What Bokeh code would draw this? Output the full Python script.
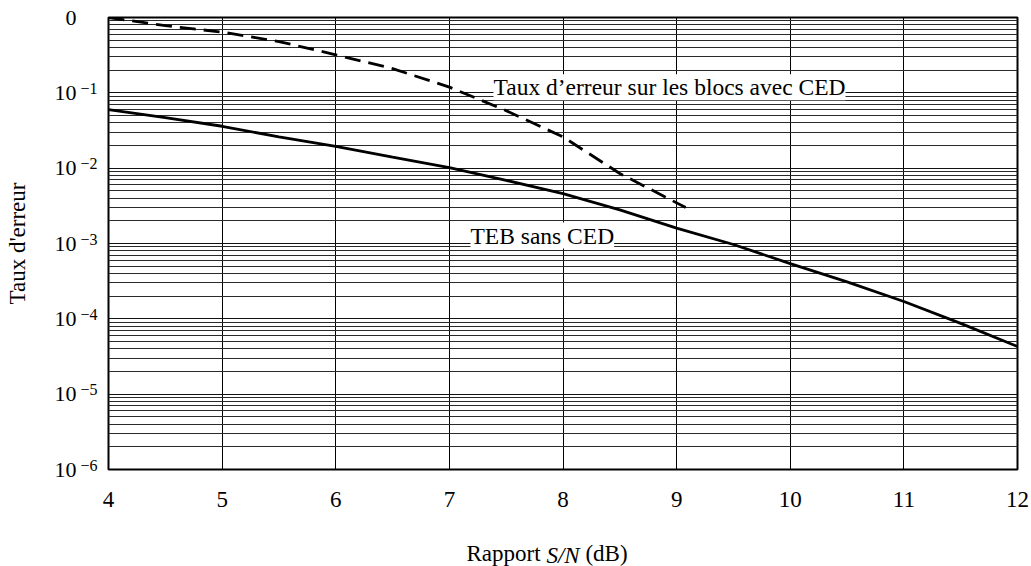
from bokeh.plotting import figure
from bokeh.models import FixedTicker, Label, Range1d, LogAxis, LinearAxis, LogScale
from bokeh.embed import file_html
from bokeh.resources import INLINE

# ---- data ----
snr_teb = [4, 4.5, 5, 5.5, 6, 6.5, 7, 7.5, 8, 8.5, 9, 9.5, 10, 10.5, 11, 11.5, 12]
teb_sans_ced = [0.060, 0.047, 0.036, 0.026, 0.0194, 0.014, 0.0102, 0.0069, 0.0046, 0.0028,
                0.0016, 9.7e-4, 5.4e-4, 3.1e-4, 1.7e-4, 8.7e-5, 4.3e-5]

snr_bloc = [4.0, 4.5, 5.0, 5.5, 6.0, 6.5, 7.0, 7.5, 8.0, 8.5, 9.08]
bloc_avec_ced = [1.0, 0.78, 0.64, 0.48, 0.32, 0.21, 0.119, 0.058, 0.026, 0.0085, 0.003]

x_ticks = [4, 5, 6, 7, 8, 9, 10, 11, 12]
y_ticks = [1e-6, 1e-5, 1e-4, 1e-3, 1e-2, 1e-1, 1.0]
y_tick_base = ["10", "10", "10", "10", "10", "10", "0"]
y_tick_exps = ["−6", "−5", "−4", "−3", "−2", "−1", ""]

x_title_parts = ["Rapport", "S/N", "(dB)"]
y_title = "Taux d'erreur"
label_bloc = "Taux d’erreur sur les blocs avec CED"
label_teb = "TEB sans CED"

FONT = "Liberation Serif"

# ---- layout constants (pixels) ----
FL, FW, FT, FH = 108, 909, 17, 452
PX_PER_X = FW / 8.0
PX_PER_DEC = FH / 6.0
EXP_RAISE_PX = 4.5  # exponents sit higher than the "10"


def x_at(px):
    return 4 + (px - FL) / PX_PER_X


def y_at(py):
    return 10 ** (-(py - FT) / PX_PER_DEC)


minor = []
for d in y_ticks[:-1]:
    for m in range(2, 10):
        minor.append(m * d)

p = figure(
    frame_width=FW, frame_height=FH,
    min_border_left=FL, min_border_right=14, min_border_top=FT, min_border_bottom=97,
    y_axis_type="log",
    x_range=Range1d(4, 12), y_range=Range1d(1e-6, 1.0),
    output_backend="svg", toolbar_location=None,
    background_fill_color="white", border_fill_color="white",
)


def plain(ax):
    ax.axis_line_color = None
    ax.major_tick_line_color = None
    ax.minor_tick_line_color = None
    ax.major_label_text_font = FONT
    ax.major_label_text_color = "black"
    ax.axis_label_text_font = FONT
    ax.axis_label_text_color = "black"
    ax.axis_label_text_font_style = "normal"


# ---- x axis: tick numbers ----
xa = p.xaxis[0]
xa.ticker = FixedTicker(ticks=x_ticks)
plain(xa)
xa.major_label_text_font_size = "23px"
xa.major_label_standoff = 16

# ---- second x axis: the title "Rapport S/N (dB)" with italic S/N ----
x_rap = x_at(FL + FW / 2 - 16.5 - 6 - 37)
x_db = x_at(FL + FW / 2 + 16.5 + 6 + 21)
xt = LinearAxis(ticker=FixedTicker(ticks=[x_rap, x_db]),
                major_label_overrides={x_rap: x_title_parts[0], x_db: x_title_parts[2]})
plain(xt)
xt.major_label_text_font_size = "23px"
xt.major_label_standoff = 25
xt.axis_label = x_title_parts[1]
xt.axis_label_text_font_size = "23px"
xt.axis_label_text_font_style = "italic"
xt.axis_label_standoff = -26
p.add_layout(xt, "below")

# ---- y axis (inner): exponents, on a range shifted so they sit raised ----
shift = 10 ** (EXP_RAISE_PX / PX_PER_DEC)
p.extra_y_ranges = {"exp": Range1d(1e-6 / shift, 1.0 / shift)}
p.extra_y_scales = {"exp": LogScale()}

ya = p.yaxis[0]
ya.ticker = FixedTicker(ticks=y_ticks)
ya.y_range_name = "exp"
plain(ya)
ya.major_tick_out = 0
ya.major_tick_in = 0
ya.minor_tick_out = 0
ya.minor_tick_in = 0
ya.major_label_overrides = {t: e for t, e in zip(y_ticks, y_tick_exps)}
ya.major_label_text_font_size = "16px"
ya.major_label_standoff = 11

# ---- y axis (outer): bases "10" and title ----
yb = LogAxis(ticker=FixedTicker(ticks=y_ticks),
             major_label_overrides={t: b for t, b in zip(y_ticks, y_tick_base)})
plain(yb)
yb.major_tick_out = 0
yb.major_tick_in = 0
yb.minor_tick_out = 0
yb.minor_tick_in = 0
yb.major_label_text_font_size = "22px"
yb.major_label_standoff = 1
yb.axis_label = y_title
yb.axis_label_text_font_size = "23px"
yb.axis_label_standoff = 22
p.add_layout(yb, "left")

# ---- grid ----
p.xgrid.ticker = FixedTicker(ticks=x_ticks)
p.xgrid.grid_line_color = "black"
p.xgrid.grid_line_width = 1
p.ygrid.ticker = FixedTicker(ticks=y_ticks, minor_ticks=minor)
p.ygrid.grid_line_color = "#111111"
p.ygrid.grid_line_width = 1
p.ygrid.minor_grid_line_color = "#2a2a2a"
p.ygrid.minor_grid_line_width = 1

p.outline_line_color = "black"
p.outline_line_width = 2

# ---- curves ----
p.line(snr_teb, teb_sans_ced, line_color="black", line_width=2.8)
p.line(snr_bloc, bloc_avec_ced, line_color="black", line_width=2.8, line_dash="16 8")

# ---- curve labels with white boxes ----
p.add_layout(Label(x=x_at(493), y=y_at(86.7), text=label_bloc,
                   text_font=FONT, text_font_size="23.5px", text_baseline="alphabetic",
                   text_align="left", background_fill_color="white", text_color="black"))
p.add_layout(Label(x=x_at(470), y=y_at(235), text=label_teb,
                   text_font=FONT, text_font_size="23.5px", text_baseline="alphabetic",
                   text_align="left", background_fill_color="white", text_color="black"))

open("out.html", "w").write(file_html(p, INLINE))
